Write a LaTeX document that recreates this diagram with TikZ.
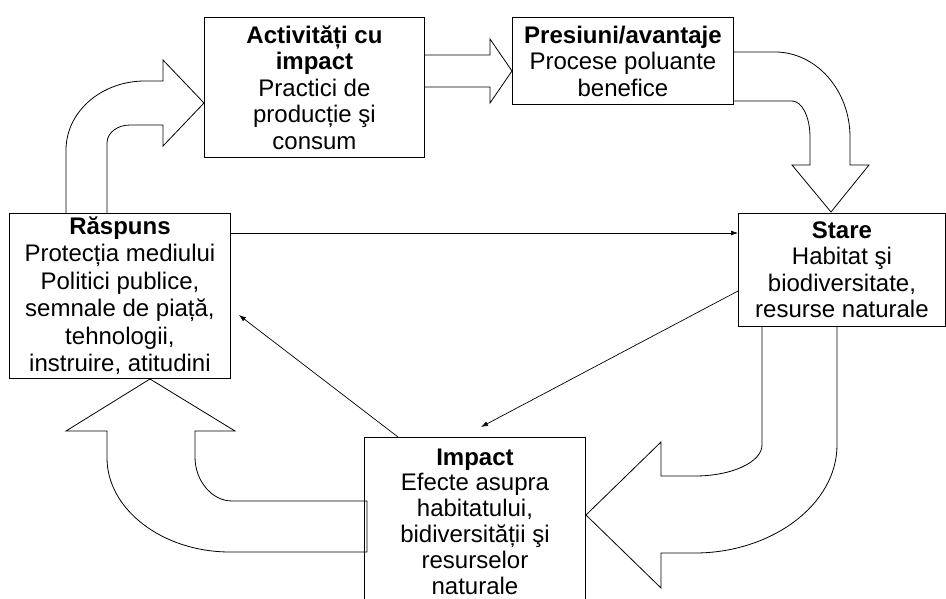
\documentclass[tikz,border=0pt]{standalone}
\usepackage{fontspec}
\setmainfont{Liberation Sans}
\usetikzlibrary{arrows.meta,calc,backgrounds}
\begin{document}
\begin{tikzpicture}[x=1pt,y=-1pt,
  box/.style={draw, line width=0.9pt, align=center, inner sep=0pt, anchor=north west,
    font=\fontsize{24}{26.5}\selectfont},
  blockarrow/.style={draw, line width=0.8pt, fill=white, line join=miter},
  thinarrow/.style={draw, line width=0.7pt, -{Latex[length=7pt,width=5pt]}}]
\useasboundingbox (0,0) rectangle (946,599);

% boxes
\node[box, minimum width=220pt, minimum height=140pt] (act) at (204,17)
  {\textbf{Activități cu}\\\textbf{impact}\\Practici de\\producție şi\\consum};
\node[box, minimum width=221pt, minimum height=87pt] (pres) at (512,17)
  {\textbf{Presiuni/avantaje}\\Procese poluante\\benefice};
\node[box, minimum width=207pt, minimum height=113pt] (stare) at (738,213)
  {\textbf{Stare}\\Habitat şi\\biodiversitate,\\resurse naturale};
\node[box, minimum width=221pt, minimum height=165pt,
  font=\fontsize{24}{27.5}\selectfont] (resp) at (9,213)
  {\textbf{Răspuns}\\Protecția mediului\\Politici publice,\\semnale de piață,\\tehnologii,\\instruire, atitudini};
\node[box, minimum width=221pt, minimum height=168pt,
  font=\fontsize{24}{25.8}\selectfont] (impact) at (364,437)
  {\textbf{Impact}\\Efecte asupra\\habitatului,\\bidiversității şi\\resurselor\\naturale};

\begin{scope}[on background layer]
% Activitati -> Presiuni
\draw[blockarrow] (424,55) -- (490,55) -- (490,39) -- (512,71) -- (490,103) -- (490,87) -- (424,87);
% Raspuns -> Activitati
\draw[blockarrow] (66,213) -- (66,150) .. controls (66,112) and (101,81) .. (145,81)
  -- (163,81) -- (163,60) -- (204,103) -- (163,146) -- (163,125) -- (130,125)
  .. controls (117,125) and (107,133) .. (107,143) -- (107,213);
% Presiuni -> Stare
\draw[blockarrow] (733,52) -- (775,52) .. controls (816,52) and (850,90) .. (850,137)
  -- (850,165) -- (869,165) -- (831,212) -- (792,165) -- (810,165) -- (810,137)
  .. controls (810,117) and (802,101) .. (792,101) -- (733,101);
% Stare -> Impact
\draw[blockarrow] (837,327) -- (837,445) .. controls (837,505) and (771,553) .. (695,553)
  -- (661,553) -- (661,588) -- (586,515) -- (661,442) -- (661,476) -- (695,476)
  .. controls (732,476) and (762,462) .. (762,445) -- (762,327);
% Impact -> Raspuns
\draw[blockarrow] (367,501) -- (232,501) .. controls (212,501) and (195,481) .. (195,457)
  -- (195,431) -- (235,431) -- (150,379) -- (66,431) -- (107,431) -- (107,458)
  .. controls (107,509) and (162,552) .. (230,552) -- (367,552) -- cycle;
\end{scope}

% thin connectors
\draw[thinarrow] ($(resp.north east)+(0,20)$) -- ($(stare.north west)+(0,20)$);
\draw[thinarrow] ($(stare.north west)+(0,78)$) -- ($(impact.north west)+(117,-10)$);
\draw[thinarrow] ($(impact.north west)+(34,0)$) -- ($(resp.north east)+(8,102)$);
\end{tikzpicture}
\end{document}
